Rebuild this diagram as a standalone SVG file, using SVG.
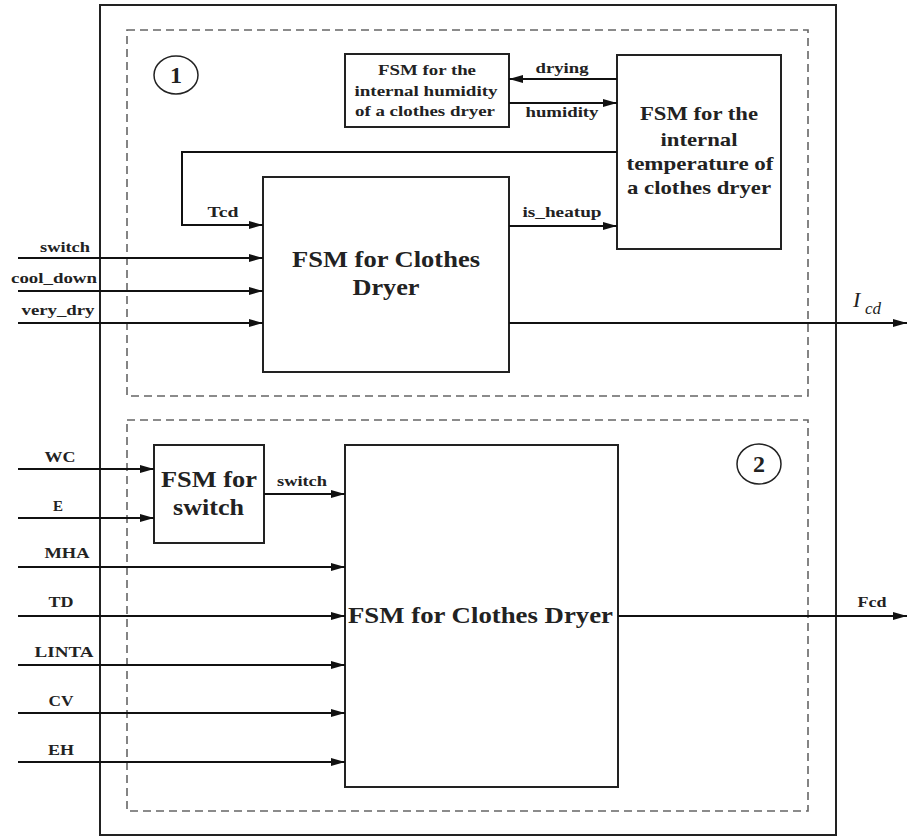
<svg xmlns="http://www.w3.org/2000/svg" width="908" height="836" viewBox="0 0 908 836">
<style>
.box{fill:#fff;stroke:#222;stroke-width:2}
.dash{fill:none;stroke:#666;stroke-width:1.6;stroke-dasharray:8,5}
.ln{fill:none;stroke:#111;stroke-width:2}
text{font-family:'Liberation Serif','Times New Roman',serif}
.lbl{font-weight:bold;font-size:15px;fill:#222;text-anchor:middle}
.t{font-weight:bold;fill:#222;text-anchor:middle}
</style>
<defs>
<marker id="ah" markerUnits="userSpaceOnUse" markerWidth="15" markerHeight="10" refX="14" refY="5" orient="auto">
<path d="M0,1 L14,5 L0,9 z" fill="#111"/>
</marker>
</defs>
<rect id="outer" x="100" y="5" width="736" height="830" fill="none" stroke="#222" stroke-width="2"/>
<g id="section1">
<rect x="127" y="30" width="681" height="366" class="dash"/>
<ellipse cx="176" cy="75" rx="22" ry="19" fill="none" stroke="#222" stroke-width="1.5"/>
<text x="176" y="83" class="t" font-size="24">1</text>
</g>
<g id="section2">
<rect x="127" y="420" width="681" height="391" class="dash"/>
<ellipse cx="759" cy="464" rx="22" ry="20" fill="none" stroke="#222" stroke-width="1.5"/>
<text x="759" y="472" class="t" font-size="24">2</text>
</g>
<g id="humidity">
<rect x="345" y="54" width="164" height="73" class="box"/>
<text x="427" y="75" class="t" font-size="15.5" textLength="98" lengthAdjust="spacingAndGlyphs">FSM for the</text>
<text x="426" y="96" class="t" font-size="15.5" textLength="143" lengthAdjust="spacingAndGlyphs">internal humidity</text>
<text x="425" y="116" class="t" font-size="15.5" textLength="140" lengthAdjust="spacingAndGlyphs">of a clothes dryer</text>
</g>
<g id="temperature">
<rect x="617" y="55" width="164" height="194" class="box"/>
<text x="699" y="120" class="t" font-size="19" textLength="118" lengthAdjust="spacingAndGlyphs">FSM for the</text>
<text x="699" y="146" class="t" font-size="19" textLength="77" lengthAdjust="spacingAndGlyphs">internal</text>
<text x="700" y="170" class="t" font-size="19" textLength="147" lengthAdjust="spacingAndGlyphs">temperature of</text>
<text x="699" y="194" class="t" font-size="19" textLength="144" lengthAdjust="spacingAndGlyphs">a clothes dryer</text>
</g>
<g id="dryer1">
<rect x="263" y="177" width="246" height="195" class="box"/>
<text x="386" y="267" class="t" font-size="23" textLength="188" lengthAdjust="spacingAndGlyphs">FSM for Clothes</text>
<text x="386" y="295" class="t" font-size="23" textLength="67" lengthAdjust="spacingAndGlyphs">Dryer</text>
</g>
<g id="fsmswitch">
<rect x="154" y="445" width="110" height="98" class="box"/>
<text x="209" y="487" class="t" font-size="24" textLength="96" lengthAdjust="spacingAndGlyphs">FSM for</text>
<text x="208.5" y="515" class="t" font-size="24" textLength="71" lengthAdjust="spacingAndGlyphs">switch</text>
</g>
<g id="dryer2">
<rect x="345" y="445" width="273" height="342" class="box"/>
<text x="480.5" y="623" class="t" font-size="24" textLength="265" lengthAdjust="spacingAndGlyphs">FSM for Clothes Dryer</text>
</g>
<g id="connectors">
<line x1="617" y1="79" x2="509" y2="79" class="ln" marker-end="url(#ah)"/>
<line x1="509" y1="103" x2="617" y2="103" class="ln" marker-end="url(#ah)"/>
<polyline points="617,152 182,152 182,225 263,225" class="ln" marker-end="url(#ah)"/>
<line x1="509" y1="226" x2="617" y2="226" class="ln" marker-end="url(#ah)"/>
<line x1="18" y1="258" x2="263" y2="258" class="ln" marker-end="url(#ah)"/>
<line x1="18" y1="291" x2="263" y2="291" class="ln" marker-end="url(#ah)"/>
<line x1="18" y1="323" x2="263" y2="323" class="ln" marker-end="url(#ah)"/>
<line x1="509" y1="323" x2="907" y2="323" class="ln" marker-end="url(#ah)"/>
<line x1="18" y1="469" x2="154" y2="469" class="ln" marker-end="url(#ah)"/>
<line x1="18" y1="518" x2="154" y2="518" class="ln" marker-end="url(#ah)"/>
<line x1="264" y1="494" x2="345" y2="494" class="ln" marker-end="url(#ah)"/>
<line x1="18" y1="567" x2="345" y2="567" class="ln" marker-end="url(#ah)"/>
<line x1="18" y1="616" x2="345" y2="616" class="ln" marker-end="url(#ah)"/>
<line x1="18" y1="665" x2="345" y2="665" class="ln" marker-end="url(#ah)"/>
<line x1="18" y1="713" x2="345" y2="713" class="ln" marker-end="url(#ah)"/>
<line x1="18" y1="762" x2="345" y2="762" class="ln" marker-end="url(#ah)"/>
<line x1="618" y1="616" x2="907" y2="616" class="ln" marker-end="url(#ah)"/>
<text x="562" y="73" class="lbl" textLength="53" lengthAdjust="spacingAndGlyphs">drying</text>
<text x="562" y="117" class="lbl" textLength="73" lengthAdjust="spacingAndGlyphs">humidity</text>
<text x="223" y="217" class="lbl" textLength="31" lengthAdjust="spacingAndGlyphs">Tcd</text>
<text x="562" y="217" class="lbl" textLength="79" lengthAdjust="spacingAndGlyphs">is_heatup</text>
<text x="65" y="252" class="lbl" textLength="50" lengthAdjust="spacingAndGlyphs">switch</text>
<text x="54" y="283" class="lbl" textLength="86" lengthAdjust="spacingAndGlyphs">cool_down</text>
<text x="58" y="315" class="lbl" textLength="73" lengthAdjust="spacingAndGlyphs">very_dry</text>
<text x="853" y="307" font-style="italic" font-size="22" fill="#222">I</text>
<text x="865" y="314" font-style="italic" font-size="17" fill="#222">cd</text>
<text x="60" y="462" class="lbl" textLength="31" lengthAdjust="spacingAndGlyphs">WC</text>
<text x="58" y="511" class="lbl">E</text>
<text x="302" y="486" class="lbl" textLength="50" lengthAdjust="spacingAndGlyphs">switch</text>
<text x="67" y="558" class="lbl" textLength="45" lengthAdjust="spacingAndGlyphs">MHA</text>
<text x="61" y="607" class="lbl" textLength="25" lengthAdjust="spacingAndGlyphs">TD</text>
<text x="64" y="657" class="lbl" textLength="59" lengthAdjust="spacingAndGlyphs">LINTA</text>
<text x="61" y="706" class="lbl" textLength="25" lengthAdjust="spacingAndGlyphs">CV</text>
<text x="61" y="755" class="lbl" textLength="26" lengthAdjust="spacingAndGlyphs">EH</text>
<text x="872" y="607" class="lbl" textLength="29" lengthAdjust="spacingAndGlyphs">Fcd</text>
</g>
</svg>
